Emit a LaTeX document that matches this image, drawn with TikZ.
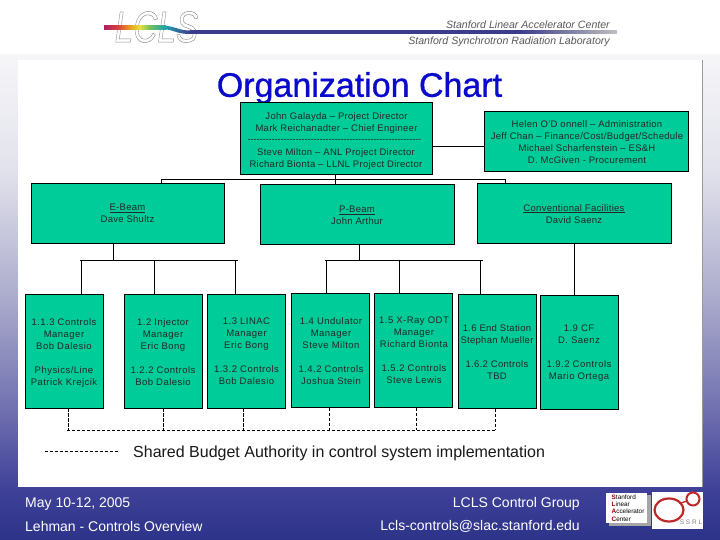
\documentclass[tikz,border=0pt]{standalone}
\usepackage{fontspec}
\setmainfont{Liberation Sans}
\newfontfamily\plainfont{Liberation Sans}
\usetikzlibrary{calc}
\definecolor{boxgreen}{HTML}{00CC99}
\definecolor{titleblue}{HTML}{0A0ACC}
\definecolor{navyline}{HTML}{3C3C8C}
\definecolor{ringred}{HTML}{C02828}
\definecolor{bgA}{HTML}{2C3388}
\definecolor{bgB}{HTML}{3F4198}
\definecolor{bgC}{HTML}{7070B0}
\definecolor{bgD}{HTML}{AAAACC}
\definecolor{bgE}{HTML}{E2E2EC}
\definecolor{bgF}{HTML}{F5F5F8}
\definecolor{rbA}{HTML}{B02060}
\definecolor{rbB}{HTML}{D84040}
\definecolor{rbC}{HTML}{E8A020}
\definecolor{rbD}{HTML}{E8E040}
\definecolor{rbE}{HTML}{70C060}
\definecolor{rbF}{HTML}{20A0B0}
\pgfdeclareverticalshading{pagebg}{100bp}{
 color(0bp)=(bgA); color(25bp)=(bgA); color(30.2bp)=(bgB);
 color(38.4bp)=(bgC); color(49.7bp)=(bgD); color(63.1bp)=(bgE);
 color(74.5bp)=(bgF); color(100bp)=(bgF)}
\pgfdeclarehorizontalshading{rainbow}{100bp}{
 color(0bp)=(rbA); color(25bp)=(rbA); color(36bp)=(rbB);
 color(46bp)=(rbC); color(54bp)=(rbD); color(62bp)=(rbE);
 color(75bp)=(rbF); color(100bp)=(rbF)}
\tikzset{
 orgbox/.style={draw=black,fill=boxgreen,line width=0.9bp,inner sep=0pt,anchor=center},
 conn/.style={draw=black,line width=1bp},
 dashconn/.style={draw=black,line width=0.8bp,dash pattern=on 3.2bp off 1.8bp},
 boxtext/.style={align=center,inner sep=0pt,anchor=north,font=\fontsize{9.5bp}{12bp}\selectfont\addfontfeatures{LetterSpace=3},text=black!85},
 lowtext/.style={boxtext,font=\fontsize{9.5bp}{12bp}\selectfont\addfontfeatures{LetterSpace=5}},
 foot/.style={inner sep=0pt,text=white,font=\fontsize{14bp}{16bp}\selectfont},
 headtext/.style={inner sep=0pt,anchor=east,text=black!65,font=\fontsize{10.6bp}{12bp}\selectfont\itshape},
}
\newcommand{\orgb}[5]{\node[orgbox,minimum width={(#4-#2)*1bp},minimum height={(#5-#3)*1bp}] (#1) at ({(#2+#4)/2},{(#3+#5)/2}) {};}
\begin{document}
\begin{tikzpicture}[x=1bp,y=-1bp]
\useasboundingbox (0,0) rectangle (720,540);
% page background
\fill[white] (0,0) rectangle (720,56);
\shade[shading=pagebg] (0,55) rectangle (720,540);
\fill[white] (18,60) rectangle (702,487);
\draw[gray!80,line width=0.8bp] (702.5,60) -- (702.5,487);
% header logo
\node[inner sep=0pt,text=gray!90,xscale=.76,transform shape,font=\fontsize{44bp}{44bp}\selectfont\itshape] (lclslogo) at (156.5,27) {\special{pdf:code 1 Tr 0.5 w}LCLS\special{pdf:code 0 Tr}};
\shade[shading=rainbow] (104,26) rectangle (166,29.5);
\shade[left color=rbF,right color=navyline] (165,26) .. controls (175,26) and (178,30.5) .. (190,30.5) -- (190,34) .. controls (176,34) and (173,29.5) .. (165,29.5) -- cycle;
\fill[navyline] (190,30.5) rectangle (520,34);
\shade[left color=navyline,right color=gray!50] (520,30.5) rectangle (617,34);
\node[headtext] (slac) at (610,25) {Stanford Linear Accelerator Center};
\node[headtext] (ssrl) at (610,42) {Stanford Synchrotron Radiation Laboratory};
% title
\node[inner sep=0pt,text=titleblue,font=\fontsize{34bp}{36bp}\selectfont] (title) at (359.5,88) {\special{pdf:code 2 Tr 0.3 w}Organization Chart\special{pdf:code 0 Tr 0 w}};
% boxes
\orgb{top}{240.5}{102}{432.5}{174}
\orgb{staff}{484}{111}{688}{171}
\orgb{ebeam}{31}{183}{224}{243}
\orgb{pbeam}{260}{184}{454}{244}
\orgb{cf}{477}{183}{671}{243}
\orgb{bA}{25.5}{294.5}{103}{408}
\orgb{bB}{124.5}{294.5}{202.5}{408}
\orgb{bC}{207.5}{294.5}{285.5}{408}
\orgb{bD}{291.5}{293.5}{369.5}{407.5}
\orgb{bE}{374.5}{293.5}{452.5}{407.5}
\orgb{bF}{458.5}{294.5}{536.5}{408.5}
\orgb{bG}{540.5}{295.5}{618.5}{409.5}
% box texts
\node[boxtext] (tTop) at (336.5,112) {John Galayda – Project Director\\Mark Reichanadter – Chief Engineer};
\node[inner sep=0pt,text=black!85,font=\plainfont\fontsize{9bp}{10bp}\selectfont] (tSep) at (334.5,141.5) {----------------------------------------------------------};
\node[boxtext] (tTop2) at (336,148.5) {Steve Milton – ANL Project Director\\Richard Bionta – LLNL Project Director};
\node[boxtext] (tStaff) at (587,120.5) {Helen O’D onnell – Administration\\Jeff Chan – Finance/Cost/Budget/Schedule\\Michael Scharfenstein – ES\&H\\D. McGiven - Procurement};
\node[boxtext] (tE) at (127.5,204) {\underline{E-Beam}\\Dave Shultz};
\node[boxtext] (tP) at (357,205.5) {\underline{P-Beam}\\John Arthur};
\node[boxtext] (tC) at (574,204) {\underline{Conventional Facilities}\\David Saenz};
\node[lowtext] (tA) at (64,318) {1.1.3 Controls\\Manager\\Bob Dalesio\\[12bp]Physics/Line\\Patrick Krejcik};
\node[lowtext] (tB) at (163,318) {1.2 Injector\\Manager\\Eric Bong\\[12bp]1.2.2 Controls\\Bob Dalesio};
\node[lowtext] (tCc) at (246.5,318) {1.3 LINAC\\Manager\\Eric Bong\\[12bp]1.3.2 Controls\\Bob Dalesio};
\node[lowtext] (tD) at (331,317) {1.4 Undulator\\Manager\\Steve Milton\\[12bp]1.4.2 Controls\\Joshua Stein};
\node[lowtext] (tEe) at (414,317) {1.5 X-Ray ODT\\Manager\\Richard Bionta\\[12bp]1.5.2 Controls\\Steve Lewis};
\node[boxtext] (tF) at (497,324) {1.6 End Station\\Stephan Mueller\\[12bp]1.6.2 Controls\\TBD};
\node[lowtext] (tG) at (579,325) {1.9 CF\\D. Saenz\\[12bp]1.9.2 Controls\\Mario Ortega};
% solid connectors
\coordinate (busT) at (335.7,179.5);
\coordinate (busTl) at (160.5,179.5);
\coordinate (busTr) at (505.7,179.5);
\coordinate (dTe) at (161,179.5);
\coordinate (hTop) at (432,146.7);
\draw[conn] (busTl) -- (busTr);
\draw[conn] (top.south -| busT) -- (pbeam.north -| busT);
\draw[conn] (dTe) -- (ebeam.north -| dTe);
\draw[conn] (busTr) -- (cf.north -| busTr);
\draw[conn] (top.east |- hTop) -- (staff.west |- hTop);
\coordinate (busE) at (113.7,260.3);
\coordinate (dA) at (81.3,260.3);
\coordinate (dB) at (154.3,260.3);
\coordinate (dC) at (235.7,260.3);
\coordinate (endE) at (237.7,260.3);
\coordinate (startE) at (80,260.3);
\draw[conn] (startE) -- (endE);
\draw[conn] (ebeam.south -| busE) -- (busE);
\draw[conn] (dA) -- (dA |- bA.north);
\draw[conn] (dB) -- (dB |- bB.north);
\draw[conn] (dC) -- (dC |- bC.north);
\coordinate (busP) at (359,260.3);
\coordinate (dD) at (326.3,260.3);
\coordinate (dE) at (399.3,260.3);
\coordinate (dF) at (480.7,260.3);
\coordinate (startP) at (325.3,260.3);
\coordinate (endP) at (483,260.3);
\draw[conn] (startP) -- (endP);
\draw[conn] (pbeam.south -| busP) -- (busP);
\draw[conn] (dD) -- (dD |- bD.north);
\draw[conn] (dE) -- (dE |- bE.north);
\draw[conn] (dF) -- (dF |- bF.north);
\coordinate (dG) at (574.3,260);
\draw[conn] (cf.south -| dG) -- (bG.north -| dG);
% dashed connectors
\coordinate (sA) at (68.4,430.3);
\coordinate (sB) at (163.5,430.3);
\coordinate (sC) at (243.3,430.3);
\coordinate (sD) at (329.2,430.3);
\coordinate (sE) at (416.4,430.3);
\coordinate (sF) at (495.4,430.3);
\coordinate (sStart) at (67,430.3);
\coordinate (sEnd) at (497,430.3);
\draw[dashconn] (sStart) -- (sEnd);
\draw[dashconn] (bA.south -| sA) -- (sA);
\draw[dashconn] (bB.south -| sB) -- (sB);
\draw[dashconn] (bC.south -| sC) -- (sC);
\draw[dashconn] (bD.south -| sD) -- (sD);
\draw[dashconn] (bE.south -| sE) -- (sE);
\draw[dashconn] (bF.south -| sF) -- (sF);
% legend
\coordinate (legA) at (44.5,451.7);
\coordinate (legB) at (118.5,451.7);
\draw[dashconn] (legA) -- (legB);
\node[inner sep=0pt,anchor=west,text=black!90,font=\fontsize{16bp}{18bp}\selectfont] (legend) at (133,453) {Shared Budget Authority in control system implementation};
% footer
\node[foot,anchor=west] (fA) at (25,504) {May 10-12, 2005};
\node[foot,anchor=west] (fB) at (25,526) {Lehman - Controls Overview};
\node[foot,anchor=east] (fC) at (580,504) {LCLS Control Group};
\node[foot,anchor=east] (fD) at (580,526) {Lcls-controls@slac.stanford.edu};
% SLAC logo
\fill[gray!70] (609,495) rectangle (651,526);
\fill[white] (606,492.7) rectangle (647,523);
\node[inner sep=0pt,align=left,anchor=west,text=black,font=\fontsize{6.4bp}{7.4bp}\selectfont] (slacmark) at (611.5,508) {\textcolor{red!60!black}{\textbf{S}}tanford\\\textcolor{red!60!black}{\textbf{L}}inear\\\textcolor{red!60!black}{\textbf{A}}ccelerator\\\textcolor{red!60!black}{\textbf{C}}enter};
% SSRL logo
\fill[white] (652,491.7) rectangle (702.7,529);
\draw[ringred,line width=2.2bp] (669,510) ellipse [x radius=14.5,y radius=11.5];
\draw[ringred,line width=2bp] (693,499) circle [radius=6.5];
\draw[ringred,line width=1.4bp] (681,503) -- (687,501);
\node[inner sep=0pt,text=gray,font=\fontsize{6.5bp}{8bp}\selectfont] (ssrlmark) at (691,522.5) {S S R L};
\end{tikzpicture}
\end{document}
